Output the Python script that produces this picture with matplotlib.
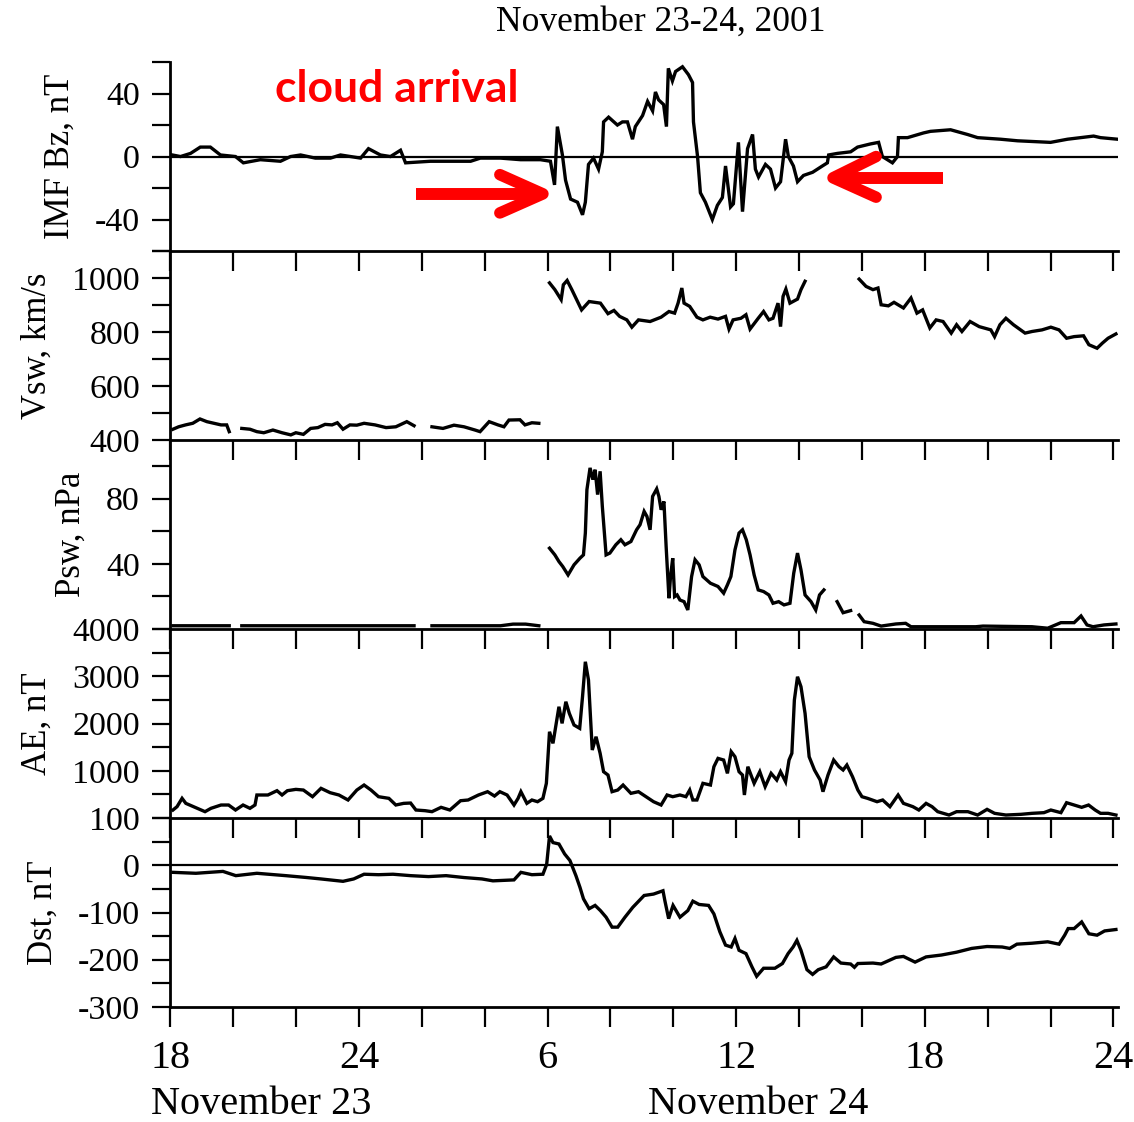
import numpy as np
import matplotlib
matplotlib.use("Agg")
import matplotlib.pyplot as plt
from matplotlib.transforms import blended_transform_factory

plt.rcParams['font.family'] = ['Liberation Serif', 'DejaVu Serif']
nan = np.nan

# ---------------- data (hours since Nov 23 18:00 UT) ----------------
bz_t = [0.06, 0.32, 0.64, 0.95, 1.27, 1.59, 2.07, 2.32, 2.86, 3.50, 3.82, 4.14, 4.61, 5.09, 5.41,
        6.05, 6.30, 6.68, 7.00, 7.32, 7.48, 8.27, 8.91, 9.55, 9.86, 10.50, 11.14, 11.77, 12.09, 12.22,
        12.31, 12.47, 12.57, 12.73, 12.95, 13.11, 13.20, 13.30, 13.46, 13.62, 13.74, 13.78, 13.94,
        14.22, 14.38, 14.54, 14.70, 14.79, 15.02, 15.18, 15.34, 15.43, 15.53, 15.69, 15.78, 15.84,
        15.97, 16.07, 16.29, 16.48, 16.61, 16.64, 16.77, 16.86, 17.02, 17.24, 17.40, 17.56, 17.66,
        17.82, 17.91, 18.07, 18.20, 18.36, 18.52, 18.61, 18.71, 18.93, 19.09, 19.25, 19.41, 19.57,
        19.66, 19.82, 19.95, 20.14, 20.43, 20.74, 20.90, 20.94, 21.22, 21.64, 21.86, 22.27, 22.53,
        22.65, 22.97, 23.13, 23.16, 23.45, 23.96, 24.18, 24.82, 25.36, 25.68, 26.41, 26.95, 28.00,
        28.54, 29.37, 29.59, 30.13]
bz_v = [1, 0, 2, 6, 6, 1, 0, -4, -2, -3, 0, 1, -1, -1, 1,
        -1, 5, 1, 0, 4, -4, -3, -3, -3, -1, -1, -2, -2, -3, -18,
        19, 1, -15, -27, -29, -37, -29, -5, -1, -8, 3, 22, 25,
        20, 22, 22, 11, 19, 26, 35, 29, 41, 36, 33, 19, 56,
        48, 54, 57, 52, 47, 22, 0, -23, -29, -40, -31, -26, -6,
        -32, -30, 9, -35, 5, 14, -8, -13, -5, -8, -20, -16, 11,
        0, -6, -16, -12, -10, -6, -4, 1, 2, 3, 6, 8, 9,
        0, -4, 0, 12, 12, 15, 16, 17, 14, 12, 11, 10, 9,
        11, 13, 12, 11]

vsw_t = [0.08, 0.26, 0.48, 0.71, 0.94, 1.16, 1.38, 1.61, 1.79, 1.87, nan,
         2.27, 2.53, 2.75, 2.97, 3.26, 3.55, 3.83, 3.99, 4.23, 4.46, 4.69, 4.92, 5.14, 5.31, 5.49,
         5.71, 5.93, 6.16, 6.51, 6.86, 7.17, 7.52, 7.75, nan,
         8.32, 8.67, 9.02, 9.34, 9.69, 9.85, 10.14, 10.42, 10.61, 10.77, 11.12, 11.28, 11.50, 11.72, nan,
         12.06, 12.23, 12.43, 12.50, 12.62, 12.77, 13.08, 13.32, 13.68, 13.92, 14.11, 14.29, 14.52,
         14.68, 14.89, 15.26, 15.61, 15.86, 16.04, 16.15, 16.27, 16.34, 16.52, 16.75, 16.94, 17.17,
         17.42, 17.66, 17.77, 17.90, 18.15, 18.31, 18.44, 18.70, 18.87, 19.04, 19.17, 19.33, 19.41,
         19.49, 19.58, 19.71, 19.95, 20.06, 20.19, nan,
         21.91, 22.13, 22.35, 22.51, 22.61, 22.84, 23.02, 23.32, 23.56, 23.75, 23.93, 24.16, 24.36,
         24.58, 24.84, 25.01, 25.18, 25.44, 25.73, 26.10, 26.22, 26.39, 26.58, 26.82, 27.19, 27.41,
         27.73, 28.01, 28.27, 28.51, 28.75, 29.05, 29.22, 29.48, 29.65, 29.83, 30.08]
vsw_v = [440, 449, 456, 462, 478, 468, 462, 456, 456, 431, nan,
         443, 440, 431, 427, 437, 427, 419, 427, 421, 443, 446, 458, 456, 464, 440,
         456, 455, 462, 456, 446, 449, 468, 453, nan,
         449, 443, 455, 449, 437, 431, 468, 456, 449, 474, 475, 456, 464, 462, nan,
         982, 957, 920, 975, 991, 957, 882, 913, 907, 868, 880, 858, 845,
         818, 845, 839, 855, 876, 870, 907, 963, 907, 895, 855, 845, 855,
         848, 858, 811, 845, 851, 864, 811, 851, 876, 845, 851, 907, 820,
         932, 959, 907, 922, 957, 988, nan,
         996, 969, 957, 963, 901, 897, 910, 889, 926, 870, 882, 815, 845,
         839, 796, 827, 802, 839, 820, 808, 783, 827, 851, 827, 796, 802,
         808, 818, 808, 777, 783, 786, 753, 740, 759, 777, 793]

psw_t = [0.08, 0.90, 1.87, nan, 2.27, 4.00, 6.00, 7.75, nan, 8.32, 10.50, 10.90, 11.30, 11.72, nan,
         12.06, 12.23, 12.36, 12.48, 12.65, 12.84, 13.03, 13.14, 13.20, 13.25, 13.35, 13.44, 13.51,
         13.59, 13.67, 13.74, 13.86, 13.98, 14.17, 14.33, 14.46, 14.65, 14.83, 14.94, 15.07, 15.16,
         15.26, 15.34, 15.47, 15.54, 15.61, 15.70, 15.77, 15.86, 15.91, 15.98, 16.04, 16.12, 16.21,
         16.34, 16.46, 16.58, 16.69, 16.82, 16.94, 17.18, 17.42, 17.60, 17.72, 17.83, 17.96, 18.09,
         18.20, 18.32, 18.44, 18.57, 18.70, 18.87, 19.04, 19.17, 19.35, 19.52, 19.71, 19.83, 19.95,
         20.06, 20.19, 20.38, 20.53, 20.65, 20.79, nan,
         21.21, 21.40, 21.64, nan,
         21.91, 22.07, 22.35, 22.61, 23.08, 23.39, 23.56, 25.62, 25.85, 27.41, 27.91, 28.33, 28.75,
         28.97, 29.16, 29.35, 29.70, 30.08]
psw_v = [2, 2, 2, nan, 2, 2, 2, 2, nan, 2, 2, 3, 3, 2, nan,
         49.6, 45.5, 41.4, 38.4, 33.2, 39.4, 43.5, 45.5, 58.9, 85.5, 98.9, 91.7, 97.8,
         82.5, 96.8, 75.3, 45.5, 46.6, 51.7, 54.8, 51.7, 53.7, 60.9, 64.0, 72.2, 69.1,
         60.9, 81.4, 86.0, 81.4, 73.2, 78.3, 50.7, 18.9, 32.2, 43.5, 19.9, 20.9, 17.8,
         16.8, 11.7, 32.2, 42.5, 39.4, 32.2, 28.1, 26.1, 22.0, 27.1, 32.2, 48.6, 58.9,
         60.9, 54.8, 45.5, 33.2, 24.0, 23.0, 20.9, 15.8, 16.8, 14.8, 15.8, 34.3, 46.6,
         36.3, 20.9, 16.8, 11.7, 20.9, 24.0, nan,
         16.8, 10.0, 11.3, nan,
         8.6, 4.5, 3.5, 1.8, 3.1, 3.5, 1.4, 1.4, 1.8, 1.4, 0.5, 3.9, 3.9,
         8.0, 2.5, 1.4, 2.5, 3.1]

ae_t = [0.08, 0.21, 0.37, 0.49, 0.78, 1.10, 1.29, 1.61, 1.85, 2.07, 2.31, 2.53, 2.69, 2.75, 3.10,
        3.39, 3.55, 3.72, 3.99, 4.23, 4.52, 4.79, 5.08, 5.36, 5.65, 5.93, 6.16, 6.38, 6.62, 6.95,
        7.17, 7.42, 7.64, 7.81, 8.10, 8.32, 8.61, 8.89, 9.23, 9.47, 9.80, 10.09, 10.31, 10.48, 10.71,
        10.93, 11.06, 11.15, 11.34, 11.50, 11.68, 11.85, 11.96, 12.06, 12.17, 12.36, 12.46, 12.58,
        12.69, 12.84, 13.02, 13.11, 13.20, 13.30, 13.42, 13.54, 13.67, 13.78, 13.92, 14.05, 14.23,
        14.40, 14.65, 14.89, 15.13, 15.37, 15.61, 15.80, 15.98, 16.21, 16.40, 16.52, 16.62, 16.75,
        16.94, 17.18, 17.29, 17.42, 17.60, 17.72, 17.84, 17.96, 18.09, 18.20, 18.26, 18.37, 18.57,
        18.75, 18.92, 19.11, 19.29, 19.41, 19.57, 19.68, 19.77, 19.85, 19.95, 20.06, 20.19, 20.32,
        20.49, 20.67, 20.76, 20.92, 21.10, 21.27, 21.40, 21.52, 21.70, 21.87, 22.00, 22.18, 22.48,
        22.66, 22.89, 23.15, 23.32, 23.62, 23.81, 24.04, 24.23, 24.41, 24.77, 25.01, 25.37, 25.68,
        25.98, 26.22, 26.58, 27.06, 27.41, 27.79, 28.01, 28.33, 28.51, 28.75, 28.99, 29.21, 29.42,
        29.59, 29.83, 30.08]
ae_v = [169, 240, 416, 310, 226, 134, 205, 275, 275, 169, 275, 205, 275, 487, 487,
        578, 487, 578, 606, 592, 451, 628, 536, 487, 381, 592, 698, 592, 451, 416,
        275, 310, 317, 169, 155, 134, 226, 169, 366, 381, 487, 557, 465, 557, 487,
        275, 416, 557, 310, 381, 345, 416, 734, 1826, 1580, 2355, 2003, 2461,
        2215, 1968, 1898, 2567, 3307, 2920, 1439, 1720, 1369, 980, 910, 557, 592,
        698, 522, 557, 451, 345, 275, 487, 451, 487, 451, 592, 381, 381,
        734, 698, 1086, 1262, 1227, 945, 1403, 1297, 980, 910, 487, 1086, 734,
        980, 663, 945, 804, 980, 769, 1227, 1369, 2497, 2990, 2779, 2215, 1297,
        1016, 804, 557, 910, 1227, 1086, 1016, 1121, 874, 592, 451, 416, 345,
        381, 240, 487, 310, 240, 169, 310, 240, 134, 63, 134, 134, 63,
        183, 99, 63, 78, 99, 113, 169, 113, 324, 275, 226, 275, 169,
        99, 99, 63]

dst_t = [0.08, 0.81, 1.67, 2.08, 2.75, 3.67, 4.34, 4.79, 5.49, 5.83, 6.16, 6.62, 7.08, 7.64, 8.21,
         8.77, 9.34, 9.91, 10.26, 10.93, 11.15, 11.50, 11.85, 11.97, 12.06, 12.17, 12.36, 12.54,
         12.71, 12.90, 13.03, 13.14, 13.32, 13.51, 13.68, 13.86, 14.05, 14.23, 14.46, 14.71, 15.07,
         15.37, 15.67, 15.73, 15.85, 15.99, 16.21, 16.46, 16.62, 16.82, 17.12, 17.29, 17.48, 17.66,
         17.84, 17.96, 18.09, 18.31, 18.50, 18.65, 18.87, 19.23, 19.47, 19.65, 19.81, 19.93, 20.06,
         20.25, 20.43, 20.61, 20.86, 21.10, 21.33, 21.64, 21.76, 21.87, 22.35, 22.61, 23.08, 23.32,
         23.69, 24.04, 24.53, 25.01, 25.49, 25.98, 26.46, 26.70, 26.93, 27.41, 27.91, 28.27, 28.45,
         28.56, 28.75, 28.99, 29.22, 29.48, 29.72, 30.08]
dst_v = [-15, -17, -13, -22, -17, -22, -26, -29, -34, -29, -19, -20, -19, -22, -24,
         -22, -26, -29, -33, -31, -15, -20, -19, 2, 62, 48, 45, 24,
         10, -22, -47, -71, -92, -85, -96, -110, -131, -131, -110, -89, -64,
         -61, -54, -75, -113, -85, -110, -96, -76, -83, -85, -103, -141, -169,
         -173, -155, -180, -187, -215, -235, -218, -218, -208, -187, -173, -159, -180,
         -221, -231, -221, -215, -194, -207, -209, -216, -208, -207, -209, -195, -193,
         -205, -194, -190, -184, -176, -172, -173, -176, -167, -165, -162, -167, -148,
         -134, -134, -120, -145, -148, -139, -136]

x_ticks = list(range(0, 31, 2))
x_major = [0, 6, 12, 18, 24, 30]
x_major_labels = ['18', '24', '6', '12', '18', '24']
day_labels = ['November 23', 'November 24']
day_label_pos = [2.88, 18.69]

# the "0" of Psw and the "4000" of AE share one spot; "100" of Dst sits where AE's 0 is
panels = [
    dict(t=bz_t, v=bz_v, label='IMF Bz, nT', ylim=(-60, 60), ticks=list(range(-60, 61, 20)),
         labeled={-40: '-40', 0: '0', 40: '40'}, zero=True),
    dict(t=vsw_t, v=vsw_v, label='Vsw, km/s', ylim=(400, 1100), ticks=list(range(400, 1101, 100)),
         labeled={400: '400', 600: '600', 800: '800', 1000: '1000'}, zero=False),
    dict(t=psw_t, v=psw_v, label='Psw, nPa', ylim=(0, 116), ticks=list(range(0, 101, 20)),
         labeled={40: '40', 80: '80'}, zero=False),
    dict(t=ae_t, v=ae_v, label='AE, nT', ylim=(0, 4000), ticks=list(range(0, 4001, 500)),
         labeled={1000: '1000', 2000: '2000', 3000: '3000', 4000: '4000'}, zero=False),
    dict(t=dst_t, v=dst_v, label='Dst, nT', ylim=(-300, 100), ticks=list(range(-300, 101, 50)),
         labeled={-300: '-300', -200: '-200', -100: '-100', 0: '0', 100: '100'}, zero=True),
]

fig = plt.figure(figsize=(11.34, 11.22), dpi=100)
gs = fig.add_gridspec(5, 1, left=0.1503, right=0.986, top=0.9447, bottom=0.1025, hspace=0)
axes = [fig.add_subplot(gs[i]) for i in range(5)]

for i, (ax, p) in enumerate(zip(axes, panels)):
    ax.patch.set_visible(False)
    ax.plot(p['t'], p['v'], color='black', lw=2.4, solid_joinstyle='miter')
    if p['zero']:
        ax.axhline(0, color='black', lw=1.6)
    ax.set_xlim(0, 30.15)
    ax.set_ylim(*p['ylim'])
    for s in ('top', 'right'):
        ax.spines[s].set_visible(False)
    for s in ('left', 'bottom'):
        ax.spines[s].set_linewidth(2.0)
    ax.set_xticks(x_ticks)
    ax.tick_params(axis='x', which='major', direction='out', length=14.5, width=1.6,
                   top=False, bottom=True, labelbottom=False)
    ax.set_yticks(p['ticks'])
    ax.set_yticklabels([p['labeled'].get(tk, '') for tk in p['ticks']])
    ax.tick_params(axis='y', which='major', direction='out', length=13, width=1.6,
                   labelsize=24.5, pad=9)
    ax.set_ylabel(p['label'], fontsize=25, labelpad=13)

axb = axes[-1]
axb.set_xticks(x_ticks)
axb.set_xticklabels([x_major_labels[x_major.index(tk)] if tk in x_major else '' for tk in x_ticks])
axb.tick_params(axis='x', labelbottom=True, labelsize=29, pad=9)

trans = blended_transform_factory(axb.transData, fig.transFigure)
for pos, lab in zip(day_label_pos, day_labels):
    axb.text(pos, 0.0155, lab, transform=trans, ha='center', va='center', fontsize=29)

fig.text(0.583, 0.980, 'November 23-24, 2001', ha='center', va='center', fontsize=25.5)

# annotation on the IMF panel
ax0 = axes[0]
ax0.text(3.33, 43, 'cloud arrival', color='#ff0000', fontsize=32, fontweight='bold',
         family=['Lato', 'DejaVu Sans'], ha='left', va='center')
red = '#ff0000'
# arrow 1 (pointing right)
ax0.plot([7.81, 11.6], [-23.7, -23.7], color=red, lw=8.6, solid_capstyle='butt', clip_on=False)
ax0.plot([10.48, 11.85, 10.48], [-11.5, -23.7, -35.8], color=red, lw=8.3,
         solid_capstyle='round', solid_joinstyle='round', clip_on=False)
# arrow 2 (pointing left)
ax0.plot([24.58, 21.3], [-13.5, -13.5], color=red, lw=8.6, solid_capstyle='butt', clip_on=False)
ax0.plot([22.45, 21.08, 22.45], [0, -13.5, -25.8], color=red, lw=8.3,
         solid_capstyle='round', solid_joinstyle='round', clip_on=False)

fig.savefig('out.png', dpi=100)
